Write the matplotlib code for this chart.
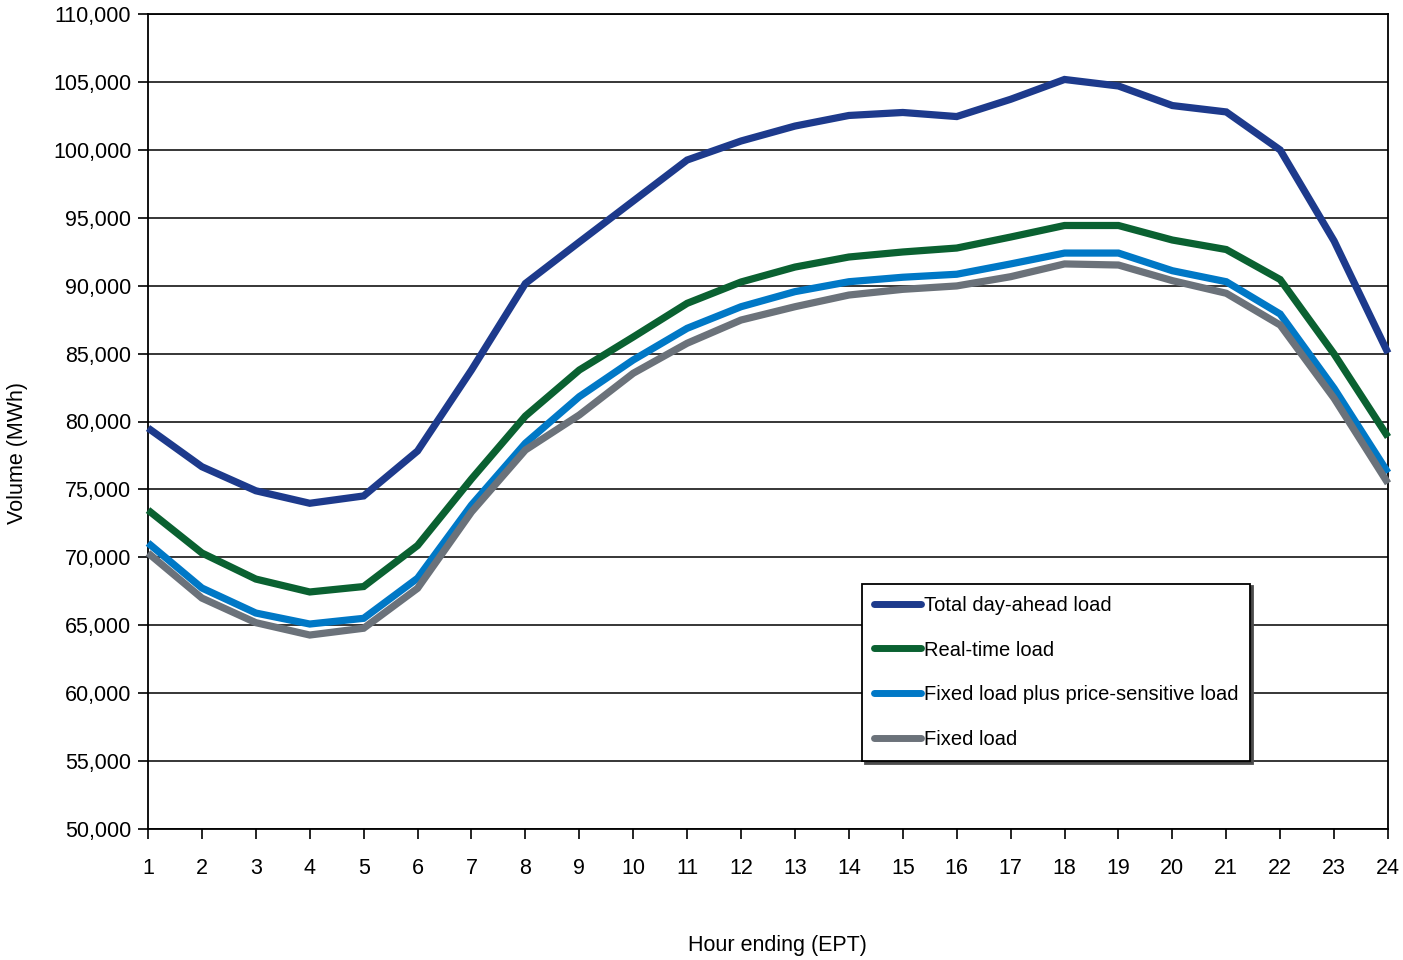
import matplotlib
matplotlib.use("Agg")
import matplotlib.pyplot as plt
from matplotlib.ticker import FuncFormatter, MultipleLocator

hours = list(range(1, 25))
total_day_ahead = [79520, 76670, 74900, 73980, 74520, 77830, 83790, 90160, 93210, 96230,
                   99250, 100650, 101750, 102530, 102750, 102450, 103720, 105180, 104700,
                   103260, 102790, 99990, 93290, 85040]
real_time = [73480, 70320, 68400, 67450, 67850, 70870, 75770, 80400, 83790, 86220,
             88700, 90270, 91370, 92110, 92480, 92770, 93580, 94430, 94430, 93360,
             92660, 90450, 84970, 78860]
fixed_plus_ps = [71060, 67740, 65900, 65090, 65510, 68460, 73850, 78400, 81830, 84530,
                 86860, 88450, 89560, 90290, 90620, 90840, 91600, 92400, 92400, 91100,
                 90290, 87910, 82440, 76230]
fixed_load = [70320, 67000, 65190, 64280, 64780, 67720, 73340, 77900, 80480, 83550,
              85760, 87470, 88450, 89310, 89730, 89980, 90660, 91600, 91520, 90370,
              89440, 87100, 81710, 75450]

series_names = ["Total day-ahead load", "Real-time load",
                "Fixed load plus price-sensitive load", "Fixed load"]
colors = ["#1D3A8C", "#0A6131", "#0078C6", "#6B727A"]

plt.rcParams['font.family'] = ['Liberation Sans Narrow', 'Liberation Sans', 'DejaVu Sans']

fig = plt.figure(figsize=(14.03, 9.6), dpi=100)
ax = fig.add_axes([148/1403, 1-829/960, 1240/1403, 815/960])

for data, name, c in zip([total_day_ahead, real_time, fixed_plus_ps, fixed_load], series_names, colors):
    ax.plot(hours, data, color=c, lw=5.2, label=name, solid_joinstyle='miter',
            solid_capstyle='butt', zorder=3, clip_on=False)

ax.set_xlim(1, 24)
ax.set_ylim(50000, 110000)
ax.set_xticks(hours)
ax.yaxis.set_major_locator(MultipleLocator(5000))
ax.yaxis.set_major_formatter(FuncFormatter(lambda v, p: f"{int(v):,}"))
ax.grid(axis='y', color='black', lw=1.1, zorder=1)
for s in ax.spines.values():
    s.set_color('black')
    s.set_linewidth(1.3)
ax.tick_params(axis='both', direction='out', length=7, width=1.2, labelsize=15.5, colors='black')
ax.tick_params(axis='x', pad=14)
ax.tick_params(axis='y', pad=5)

ax.set_xlabel("Hour ending (EPT)", fontsize=15.5)
ax.xaxis.set_label_coords((777-148)/1240, -(945-829)/815)
ax.xaxis.label.set_va('center')
ax.set_ylabel("Volume (MWh)", fontsize=15.5)
ax.yaxis.set_label_coords((18-148)/1240, (829-453)/815)
ax.yaxis.label.set_va('center')

leg = ax.legend(loc='upper left', bbox_to_anchor=(0.576, 0.301), fontsize=14.5, frameon=True,
                fancybox=False, edgecolor='black', framealpha=1, handlelength=2.3,
                handletextpad=0.15, labelspacing=1.28, borderpad=0.6, borderaxespad=0,
                shadow={'facecolor': '#444444', 'alpha': 1})
leg.get_frame().set_linewidth(1.3)
for line in leg.get_lines():
    line.set_solid_capstyle('round')
    line.set_linewidth(5)

fig.savefig("out.png", dpi=100)
